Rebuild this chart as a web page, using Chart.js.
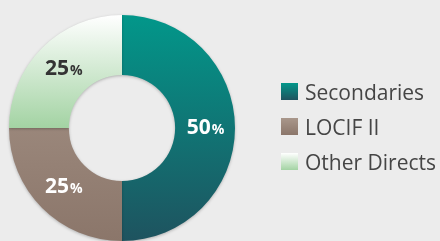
<!DOCTYPE html>
<html>
<head>
<meta charset="utf-8">
<script src="https://cdn.jsdelivr.net/npm/chart.js@4/dist/chart.umd.min.js"></script>
<style>
  html, body { margin: 0; padding: 0; background: #ececec; }
  #wrap { position: relative; width: 440px; height: 241px; }
  #legend { position: absolute; left: 281px; top: 74px; font-family: "Open Sans", "Noto Sans", sans-serif; font-size: 21px; color: #454545; white-space: nowrap; }
  .row { display: flex; align-items: center; height: 35px; }
  .box { width: 17px; height: 17px; margin-right: 7px; }
</style>
</head>
<body>
<div id="wrap">
  <canvas id="donut" width="440" height="241"></canvas>
  <div id="legend"></div>
</div>
<script>
    // Portfolio split
    const labels = ['Secondaries', 'LOCIF II', 'Other Directs'];
    const shares = [50, 25, 25];
    const gradTop = ['#02978a', '#a9978b', '#ffffff'];
    const gradBottom = ['#1e535f', '#8b766a', '#a3d3a3'];
    const labelColors = ['#ffffff', '#ffffff', '#333333'];

    const ctx = document.getElementById('donut').getContext('2d');

    function segGradient(context) {
        const chart = context.chart;
        const area = chart.chartArea;
        if (!area) return gradBottom[context.dataIndex];
        const i = context.dataIndex;
        const g = chart.ctx.createLinearGradient(0, area.top, 0, i === 2 ? (area.top + area.bottom) / 2 : area.bottom);
        g.addColorStop(0, gradTop[i]);
        g.addColorStop(1, gradBottom[i]);
        return g;
    }

    // soft shadow under the ring
    const shadowPlugin = {
        id: 'shadow',
        beforeDatasetDraw(chart) {
            chart.ctx.save();
            chart.ctx.shadowColor = 'rgba(0,0,0,0.25)';
            chart.ctx.shadowBlur = 3;
            chart.ctx.shadowOffsetY = 1;
        },
        afterDatasetDraw(chart) {
            chart.ctx.restore();
        }
    };

    // value labels with a smaller % sign
    const valueLabels = {
        id: 'valueLabels',
        afterDatasetsDraw(chart) {
            const c = chart.ctx;
            const meta = chart.getDatasetMeta(0);
            meta.data.forEach((arc, i) => {
                const p = arc.tooltipPosition();
                const num = String(shares[i]);
                c.save();
                c.textBaseline = 'alphabetic';
                c.fillStyle = labelColors[i];
                c.font = 'bold 21px "Open Sans", sans-serif';
                const w1 = c.measureText(num).width;
                c.font = 'bold 14px "Open Sans", sans-serif';
                const w2 = c.measureText('%').width;
                const x0 = p.x - (w1 + w2) / 2;
                const yb = p.y + 6;
                c.font = 'bold 21px "Open Sans", sans-serif';
                c.fillText(num, x0, yb);
                c.font = 'bold 14px "Open Sans", sans-serif';
                c.fillText('%', x0 + w1 + 1, yb);
                c.restore();
            });
        }
    };

    new Chart(ctx, {
        type: 'doughnut',
        data: {
            labels: labels,
            datasets: [{
                data: shares,
                backgroundColor: segGradient,
                borderWidth: 0
            }]
        },
        options: {
            responsive: false,
            animation: false,
            cutout: '47%',
            layout: {
                padding: { left: 9, top: 15, right: 205, bottom: 0 }
            },
            plugins: {
                legend: { display: false },
                tooltip: { enabled: false }
            }
        },
        plugins: [shadowPlugin, valueLabels]
    });

    // legend
    const legend = document.getElementById('legend');
    labels.forEach((name, i) => {
        const row = document.createElement('div');
        row.className = 'row';
        const box = document.createElement('div');
        box.className = 'box';
        box.style.background = 'linear-gradient(' + gradTop[i] + ',' + gradBottom[i] + ')';
        const txt = document.createElement('span');
        txt.textContent = name;
        row.appendChild(box);
        row.appendChild(txt);
        legend.appendChild(row);
    });
</script>
</body>
</html>
